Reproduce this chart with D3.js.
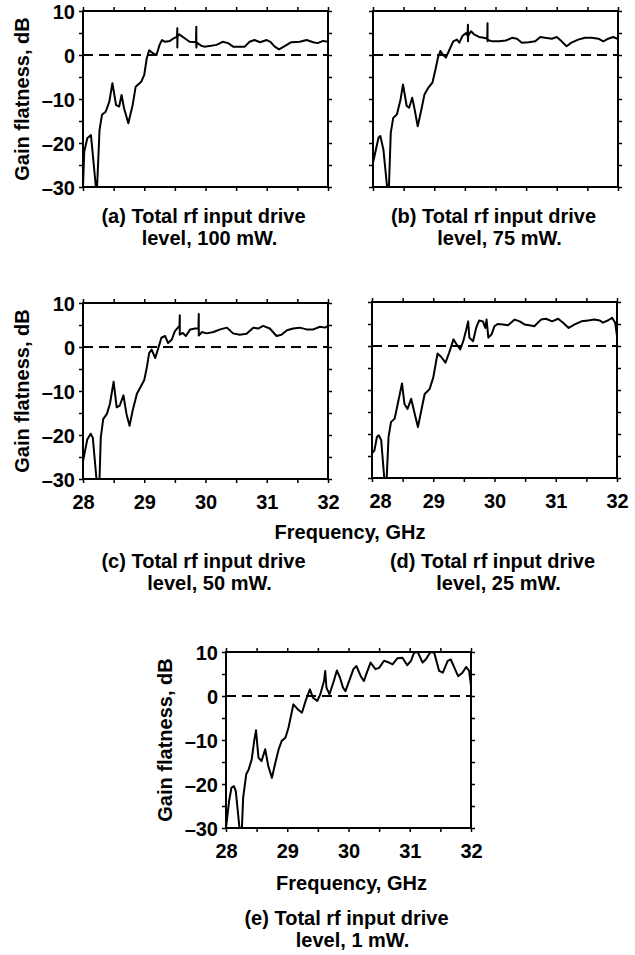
<!DOCTYPE html>
<html>
<head>
<meta charset="utf-8">
<script src="https://cdn.jsdelivr.net/npm/d3@7"></script>
<style>
body { margin: 0; background: #fff; }
svg text { font-family: "Liberation Sans", Arial, sans-serif; font-weight: bold; fill: #000; }
</style>
</head>
<body>
<svg id="chart" width="635" height="955"></svg>
<script>
// Data: [frequency GHz, gain flatness dB]
// ============================================================================
const yTicks = [10, 0, -10, -20, -30];
const xTicks = [28, 29, 30, 31, 32];
const yTitle = "Gain flatness, dB";
const xTitle = "Frequency, GHz";

const gainA = [
    [28.00,-30],[28.02,-22],[28.07,-18.9],[28.13,-18.2],[28.21,-30],[28.23,-30],[28.27,-17],
    [28.31,-13.6],[28.37,-12.9],[28.43,-10.6],[28.48,-6.4],[28.54,-11.4],[28.59,-11.7],
    [28.63,-9.1],[28.67,-12.1],[28.74,-15.5],[28.81,-11.4],[28.86,-7.2],[28.95,-6.1],
    [29.00,-4.5],[29.04,-0.8],[29.08,1.1],[29.14,0.4],[29.20,0.0],[29.25,2.3],[29.29,3.4],
    [29.34,3.0],[29.42,3.2],[29.48,3.8],[29.535,4.2],[29.54,6.1],[29.54,1.7],[29.545,4.3],
    [29.57,4.7],[29.66,3.8],[29.74,3.0],[29.845,2.9],[29.85,6.4],[29.85,1.7],[29.86,2.8],
    [29.93,2.1],[29.98,1.9],[30.09,2.1],[30.18,2.3],[30.28,3.0],[30.37,2.7],[30.45,1.9],
    [30.56,1.9],[30.64,1.9],[30.72,3.0],[30.80,3.4],[30.89,2.9],[31.00,3.4],[31.06,3.0],
    [31.13,1.9],[31.20,1.3],[31.30,2.1],[31.40,2.9],[31.54,3.0],[31.65,3.4],[31.76,2.9],
    [31.83,2.7],[31.92,3.2],[32.00,3.0]
];

const gainB = [
    [28.00,-24.5],[28.09,-18.8],[28.12,-18.4],[28.17,-21.5],[28.23,-30],[28.26,-30],[28.29,-17.7],
    [28.33,-14.3],[28.39,-13.5],[28.45,-10.1],[28.49,-6.7],[28.55,-11.6],[28.59,-12.0],
    [28.64,-9.7],[28.68,-12.4],[28.73,-16.2],[28.79,-12.4],[28.84,-9.0],[28.90,-7.5],
    [28.97,-6.3],[29.02,-3.3],[29.06,-0.6],[29.10,0.9],[29.14,0.1],[29.19,-0.6],[29.25,1.25],
    [29.31,3.1],[29.37,3.5],[29.41,2.8],[29.46,4.3],[29.52,5.0],[29.545,4.4],[29.55,6.9],
    [29.55,3.1],[29.555,4.4],[29.60,5.4],[29.65,4.7],[29.73,4.1],[29.81,3.9],[29.865,3.7],
    [29.87,7.2],[29.87,3.1],[29.875,3.4],[29.95,3.1],[30.06,3.1],[30.17,3.3],[30.27,3.9],
    [30.35,3.7],[30.43,2.8],[30.54,2.9],[30.65,3.1],[30.73,4.1],[30.81,3.9],[30.92,3.7],
    [31.00,4.1],[31.08,3.1],[31.16,2.0],[31.24,2.8],[31.35,3.5],[31.46,3.9],[31.57,3.9],
    [31.68,3.7],[31.76,3.1],[31.84,3.7],[31.92,4.1],[31.99,3.7]
];

const gainC = [
    [28.00,-26],[28.07,-21],[28.125,-19.7],[28.16,-20.6],[28.22,-30],[28.27,-30],[28.29,-20.6],
    [28.33,-16.4],[28.39,-15.2],[28.44,-12.9],[28.50,-7.9],[28.55,-13.7],[28.60,-13.3],
    [28.66,-11.0],[28.71,-15.2],[28.76,-17.9],[28.81,-14.5],[28.88,-10.6],[28.94,-9.1],
    [29.00,-7.5],[29.04,-4.8],[29.08,-1.4],[29.12,-0.6],[29.18,-2.5],[29.23,-0.2],[29.28,2.1],
    [29.34,2.5],[29.39,0.9],[29.45,1.7],[29.50,3.6],[29.575,4.8],[29.58,7.2],[29.58,2.8],
    [29.63,3.2],[29.68,2.5],[29.75,4.0],[29.83,4.2],[29.885,4.2],[29.89,7.5],[29.89,2.6],
    [29.94,3.4],[30.02,3.1],[30.13,3.4],[30.24,4.0],[30.35,4.4],[30.45,3.1],[30.56,2.8],
    [30.67,3.0],[30.78,4.4],[30.86,4.2],[30.94,4.8],[31.05,4.2],[31.16,2.5],[31.24,2.8],
    [31.33,3.8],[31.43,4.2],[31.54,4.4],[31.65,4.0],[31.76,4.0],[31.87,4.6],[31.95,4.4],
    [32.00,4.8]
];

const gainD = [
    [28.00,-24.4],[28.04,-23.7],[28.08,-20.7],[28.11,-20.3],[28.15,-21.4],[28.20,-30],[28.24,-30],
    [28.27,-20.7],[28.31,-17.3],[28.37,-16.5],[28.42,-13.2],[28.49,-8.5],[28.53,-13.2],
    [28.58,-14.3],[28.64,-12.0],[28.69,-15.0],[28.75,-18.4],[28.80,-15.0],[28.86,-10.9],
    [28.94,-9.8],[29.00,-7.2],[29.07,-1.7],[29.13,-2.5],[29.20,-3.8],[29.26,-1.5],[29.33,1.5],
    [29.38,0.4],[29.44,-0.8],[29.49,1.1],[29.54,3.8],[29.57,5.6],[29.59,1.9],[29.65,1.1],
    [29.70,4.1],[29.75,5.8],[29.81,5.6],[29.85,4.1],[29.87,6.0],[29.90,1.9],[29.95,2.6],
    [30.00,4.5],[30.05,5.0],[30.14,4.9],[30.22,4.7],[30.33,6.0],[30.41,5.6],[30.49,4.9],
    [30.57,4.7],[30.65,4.5],[30.76,6.0],[30.84,6.2],[30.94,5.6],[31.04,6.2],[31.12,5.3],
    [31.21,4.1],[31.31,4.9],[31.42,5.6],[31.53,5.8],[31.63,6.0],[31.72,5.8],[31.77,5.3],
    [31.85,5.8],[31.92,6.4],[31.97,5.3],[32.00,2.3]
];

const gainE = [
    [28.00,-30],[28.05,-23.9],[28.09,-20.8],[28.13,-20.5],[28.16,-21.6],[28.22,-30],[28.26,-30],
    [28.28,-23.1],[28.33,-17.8],[28.37,-16.7],[28.42,-14.4],[28.46,-10.2],[28.49,-7.8],
    [28.53,-14.0],[28.58,-14.8],[28.64,-12.1],[28.69,-15.9],[28.75,-18.6],[28.80,-15.5],
    [28.86,-12.1],[28.91,-10.2],[28.97,-9.5],[29.02,-7.2],[29.10,-1.9],[29.17,-3.0],
    [29.24,-3.8],[29.30,-1.1],[29.37,1.5],[29.42,-0.4],[29.49,-1.1],[29.54,0.4],[29.60,3.4],
    [29.62,5.7],[29.64,1.9],[29.69,0.4],[29.76,3.4],[29.81,5.8],[29.86,4.2],[29.91,1.9],
    [29.95,1.1],[30.01,3.4],[30.08,6.1],[30.13,6.8],[30.20,4.5],[30.25,3.4],[30.31,5.7],
    [30.36,7.6],[30.44,6.1],[30.50,6.4],[30.58,8.0],[30.66,7.6],[30.72,7.2],[30.80,8.6],
    [30.88,8.7],[30.96,7.0],[31.02,8.0],[31.07,9.8],[31.13,10],[31.21,7.6],[31.26,8.3],
    [31.34,10],[31.40,9.8],[31.48,5.7],[31.54,5.3],[31.62,8.0],[31.67,8.3],[31.73,6.4],
    [31.79,4.5],[31.86,5.3],[31.92,6.6],[31.97,5.7],[32.00,2.3]
];

const captionsA = ["(a) Total rf input drive", "level, 100 mW."];
const captionsB = ["(b) Total rf input drive", "level, 75 mW."];
const captionsC = ["(c) Total rf input drive", "level, 50 mW."];
const captionsD = ["(d) Total rf input drive", "level, 25 mW."];
const captionsE = ["(e) Total rf input drive", "level, 1 mW."];

// Layout
// ============================================================================
const pw = 245, ph = 176, fontSize = 20;

const panels = [
    {data: gainA, left: 83, top: 11, caption: captionsA, capY: 223, yAxis: true, xAxis: false},
    {data: gainB, left: 373, top: 11, caption: captionsB, capY: 223, yAxis: false, xAxis: false},
    {data: gainC, left: 83, top: 303, caption: captionsC, capY: 568, yAxis: true, xAxis: true},
    {data: gainD, left: 372, top: 302, caption: captionsD, capY: 568, yAxis: false, xAxis: true, firstDx: 8},
    {data: gainE, left: 226, top: 652, caption: captionsE, capY: 925, yAxis: true, xAxis: true, xTitle: true}
];

const svg = d3.select("#chart");

const xScale = d3.scaleLinear().domain([28, 32]).range([0, pw]);
const yScale = d3.scaleLinear().domain([-30, 10]).range([ph, 0]);
const minorX = d3.range(28, 32.001, 0.5);
const minorY = d3.range(-30, 10.001, 5);

const line = d3.line()
    .x(d => xScale(d[0]))
    .y(d => yScale(d[1]));

panels.forEach((p, i) => {
    let g = svg.append("g")
        .attr("transform", "translate(" + p.left + "," + p.top + ")");

    // Inward ticks on all four sides
    g.append("g").call(d3.axisTop(xScale).tickValues(minorX).tickSize(-4).tickFormat(""))
        .attr("transform", "translate(0," + ph + ")");
    g.append("g").call(d3.axisBottom(xScale).tickValues(minorX).tickSize(-4).tickFormat(""));
    g.append("g").call(d3.axisRight(yScale).tickValues(minorY).tickSize(-4).tickFormat(""));
    g.append("g").call(d3.axisLeft(yScale).tickValues(minorY).tickSize(-4).tickFormat(""))
        .attr("transform", "translate(" + pw + ",0)");
    g.selectAll(".domain").remove();
    g.selectAll(".tick line").attr("stroke", "#000").attr("stroke-width", 1.5);

    // Zero reference
    g.append("line")
        .attr("x1", 0).attr("x2", pw)
        .attr("y1", yScale(0)).attr("y2", yScale(0))
        .attr("stroke", "#000")
        .attr("stroke-width", 2)
        .attr("stroke-dasharray", "10,6");

    // Curve
    g.append("path")
        .datum(p.data)
        .attr("fill", "none")
        .attr("stroke", "#000")
        .attr("stroke-width", 2)
        .attr("stroke-linejoin", "round")
        .attr("d", line);

    // Frame
    g.append("rect")
        .attr("width", pw).attr("height", ph)
        .attr("fill", "none")
        .attr("stroke", "#000")
        .attr("stroke-width", 2);

    // Y tick labels and title
    if (p.yAxis) {
        let ya = g.append("g").call(d3.axisLeft(yScale).tickValues(yTicks).tickSize(0).tickPadding(8)
            .tickFormat(d => d < 0 ? "\u2013" + Math.abs(d) : d));
        ya.select(".domain").remove();
        ya.selectAll("text").style("font-size", fontSize + "px").attr("dy", "0.36em");

        g.append("text")
            .attr("transform", "translate(-54," + (ph / 2) + ") rotate(-90)")
            .attr("text-anchor", "middle")
            .style("font-size", fontSize + "px")
            .text(yTitle);
    }

    // X tick labels
    if (p.xAxis) {
        let xa = g.append("g")
            .attr("transform", "translate(0," + ph + ")")
            .call(d3.axisBottom(xScale).tickValues(xTicks).tickSize(0).tickPadding(16).tickFormat(d3.format("d")));
        xa.select(".domain").remove();
        xa.selectAll("text").style("font-size", fontSize + "px");
        if (p.firstDx) xa.select(".tick text").attr("dx", p.firstDx);
    }

    if (p.xTitle) {
        g.append("text")
            .attr("x", pw / 2 + 3).attr("y", ph + 62)
            .attr("text-anchor", "middle")
            .style("font-size", fontSize + "px")
            .text(xTitle);
    }

    // Caption
    p.caption.forEach((c, j) => {
        svg.append("text")
            .attr("x", p.left + pw / 2 + (j === 1 ? 4 : -2))
            .attr("y", p.capY + j * 22)
            .attr("text-anchor", "middle")
            .style("font-size", fontSize + "px")
            .text(c);
    });
});

// Shared x-axis title for panels (c) and (d)
svg.append("text")
    .attr("x", 350).attr("y", 539)
    .attr("text-anchor", "middle")
    .style("font-size", fontSize + "px")
    .text(xTitle);
</script>
</body>
</html>
